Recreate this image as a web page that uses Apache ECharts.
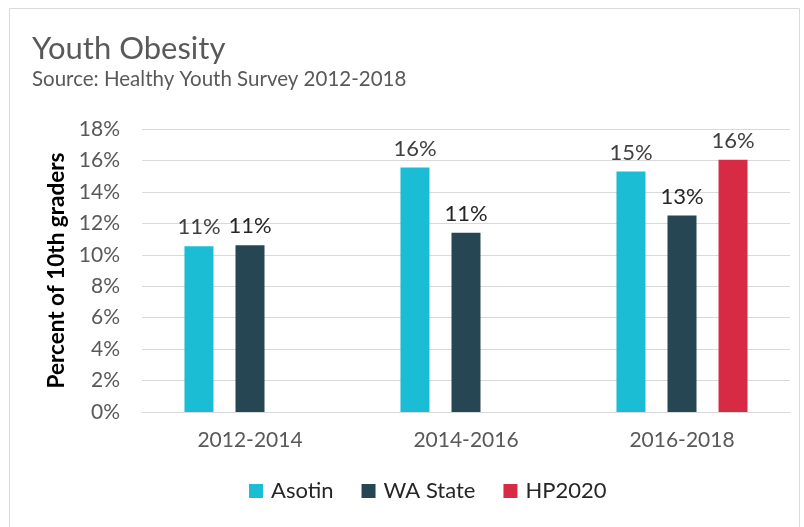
<!DOCTYPE html>
<html><head><meta charset="utf-8">
<script src="https://cdn.jsdelivr.net/npm/echarts@6/dist/echarts.min.js"></script>
<style>html,body{margin:0;padding:0;background:#fff}#c{width:804px;height:527px}</style>
</head><body><div id="c"></div>
<script>
const categories = ['2012-2014', '2014-2016', '2016-2018'];
const asotin = [10.55, 15.55, 15.3];
const waState = [10.6, 11.4, 12.5];
const hp2020 = [null, null, 16.05];
const yTicks = [0, 2, 4, 6, 8, 10, 12, 14, 16, 18];

const FONT = 'Lato, "Open Sans", sans-serif';
const chart = echarts.init(document.getElementById('c'));
const lbl = {
  show: true, position: 'top', distance: 8,
  fontFamily: FONT, fontSize: 22, color: '#404040',
  formatter: p => p.value == null ? '' : Math.round(p.value) + '%'
};
chart.setOption({
  animation: false,
  textStyle: { fontFamily: FONT },
  graphic: [{ type: 'rect', shape: { x: 9.5, y: 8.5, width: 790, height: 520 },
    style: { fill: 'none', stroke: '#d9d9d9', lineWidth: 1 } }],
  title: {
    text: 'Youth Obesity', subtext: 'Source: Healthy Youth Survey 2012-2018',
    left: 27, top: 28, itemGap: 5,
    textStyle: { fontFamily: FONT, fontSize: 31, fontWeight: 'normal', color: '#595959' },
    subtextStyle: { fontFamily: FONT, fontSize: 20.5, color: '#595959' }
  },
  legend: {
    bottom: 20, left: 244, itemWidth: 14, itemHeight: 14, itemGap: 28,
    icon: 'rect', textStyle: { fontFamily: FONT, fontSize: 22, color: '#262626', padding: [0, 0, 0, 3] },
    data: ['Asotin', 'WA State', 'HP2020']
  },
  grid: { left: 142, right: 14, top: 129, bottom: 115, containLabel: false },
  xAxis: {
    type: 'category', data: categories,
    axisLine: { lineStyle: { color: '#d9d9d9', width: 1 } }, axisTick: { show: false },
    axisLabel: { fontFamily: FONT, fontSize: 21, color: '#595959', margin: 18 }
  },
  yAxis: {
    type: 'value', min: 0, max: 18, interval: 2,
    name: 'Percent of 10th graders', nameLocation: 'middle', nameGap: 71,
    nameTextStyle: { fontFamily: FONT, fontSize: 22.5, fontWeight: 'bold', color: '#000' },
    axisLine: { show: false }, axisTick: { show: false },
    axisLabel: { fontFamily: FONT, fontSize: 21, color: '#595959', margin: 22,
      formatter: v => yTicks.includes(v) ? v + '%' : '' },
    splitLine: { lineStyle: { color: '#d9d9d9', width: 1 } }
  },
  series: [
    { name: 'Asotin', type: 'bar', data: asotin, itemStyle: { color: '#1ABDD4' },
      barWidth: 29, barGap: '76%', barCategoryGap: '39%', label: lbl },
    { name: 'WA State', type: 'bar', data: waState, itemStyle: { color: '#264653' },
      barWidth: 29, label: Object.assign({}, lbl, { color: '#262626' }) },
    { name: 'HP2020', type: 'bar', data: hp2020, itemStyle: { color: '#D62A45' },
      barWidth: 29, label: lbl }
  ]
});
</script></body></html>
